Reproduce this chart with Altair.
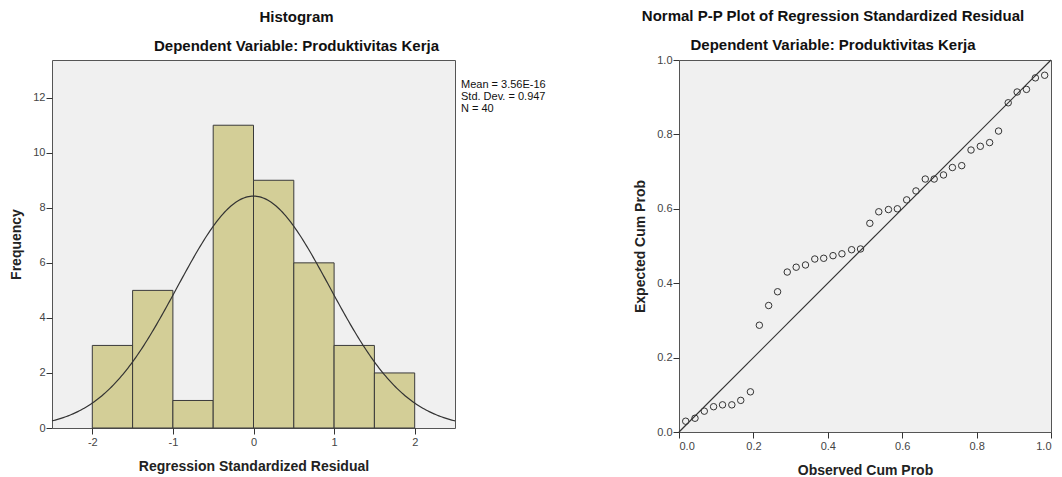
import altair as alt
import pandas as pd

# ---- Histogram data ----
bin_start = [-2.0, -1.5, -1.0, -0.5, 0.0, 0.5, 1.0, 1.5]
bin_end = [-1.5, -1.0, -0.5, 0.0, 0.5, 1.0, 1.5, 2.0]
freq = [3, 5, 1, 11, 9, 6, 3, 2]
res_mean = 3.56e-16
res_sd = 0.947
res_n = 40
stats_lines = ["Mean = 3.56E-16", "Std. Dev. = 0.947", "N = 40"]

# ---- P-P plot data ----
observed = [0.018, 0.043, 0.068, 0.093, 0.117, 0.142, 0.166, 0.192, 0.216, 0.241,
            0.265, 0.291, 0.315, 0.340, 0.365, 0.389, 0.414, 0.438, 0.464, 0.488,
            0.513, 0.537, 0.563, 0.587, 0.612, 0.637, 0.662, 0.686, 0.711, 0.735,
            0.760, 0.785, 0.810, 0.835, 0.859, 0.885, 0.909, 0.934, 0.958, 0.983]
expected = [0.029, 0.037, 0.056, 0.068, 0.073, 0.073, 0.085, 0.108, 0.287, 0.340,
            0.377, 0.430, 0.443, 0.449, 0.465, 0.467, 0.474, 0.479, 0.490, 0.492,
            0.561, 0.592, 0.598, 0.600, 0.624, 0.648, 0.680, 0.680, 0.691, 0.711,
            0.716, 0.758, 0.768, 0.778, 0.809, 0.885, 0.914, 0.921, 0.952, 0.959]
diag = [0.0, 1.0]

FONT = "Liberation Sans"
DARK = "#333333"

hist_df = pd.DataFrame({"start": bin_start, "end": bin_end, "freq": freq})
bw = bin_end[0] - bin_start[0]

xscale_h = alt.Scale(domain=[-2.5, 2.5], nice=False, zero=False)
yscale_h = alt.Scale(domain=[0, 13.37], nice=False)

bars = alt.Chart(hist_df).mark_rect(fill="#d3ce97", stroke="#3a3a3a", strokeWidth=1).encode(
    x=alt.X("start:Q", scale=xscale_h,
            axis=alt.Axis(values=[-2, -1, 0, 1, 2], labelExpr="toString(datum.value)",
                          title="Regression Standardized Residual")),
    x2="end:Q",
    y=alt.Y("freq:Q", scale=yscale_h,
            axis=alt.Axis(values=[0, 2, 4, 6, 8, 10, 12], title="Frequency")),
    y2=alt.datum(0),
)

curve = alt.Chart(alt.sequence(-2.5, 2.5001, 0.02, as_="x")).transform_calculate(
    y=f"{res_n * bw}*exp(-0.5*pow((datum.x-({res_mean}))/{res_sd},2))/({res_sd}*sqrt(2*PI))"
).mark_line(color=DARK, strokeWidth=1.2).encode(
    x=alt.X("x:Q", scale=xscale_h),
    y=alt.Y("y:Q", scale=yscale_h),
)

stats_df = pd.DataFrame({"t": ["\n".join(stats_lines)]})
stats = alt.Chart(stats_df).mark_text(
    align="left", baseline="top", font=FONT, fontSize=11, lineBreak="\n",
    lineHeight=12, color="#111"
).encode(text="t:N", x=alt.value(409), y=alt.value(19))

title_common = dict(
    anchor="middle", frame="group", font=FONT, fontSize=15, fontWeight="bold",
    color="#111", subtitleFont=FONT, subtitleFontSize=15, subtitleFontWeight="bold",
    subtitleColor="#111", subtitlePadding=14, offset=2,
)

hist = alt.layer(bars, curve, stats).properties(
    width=403, height=368,
    title=alt.TitleParams(text="Histogram", subtitle="Dependent Variable: Produktivitas Kerja",
                          dx=43, dy=-4, **title_common),
)

pp_df = pd.DataFrame({"obs": observed, "exp": expected})
diag_df = pd.DataFrame({"p": diag})
sc = alt.Scale(domain=[0, 1], nice=False)
ticks01 = [0, 0.2, 0.4, 0.6, 0.8, 1.0]

line = alt.Chart(diag_df).mark_line(color=DARK, strokeWidth=1.2).encode(
    x=alt.X("p:Q", scale=sc, axis=alt.Axis(values=ticks01, format=".1f", title="Observed Cum Prob")),
    y=alt.Y("p:Q", scale=sc, axis=alt.Axis(values=ticks01, format=".1f", title="Expected Cum Prob")),
)
pts = alt.Chart(pp_df).mark_point(shape="circle", filled=False, size=42, color=DARK,
                                  strokeWidth=1, opacity=1).encode(
    x=alt.X("obs:Q", scale=sc),
    y=alt.Y("exp:Q", scale=sc),
)

pp = alt.layer(line, pts).properties(
    width=372, height=372,
    title=alt.TitleParams(text="Normal P-P Plot of Regression Standardized Residual",
                          subtitle="Dependent Variable: Produktivitas Kerja",
                          dx=-32, dy=1, **title_common),
)

chart = alt.hconcat(hist, pp, spacing=224, bounds="flush").properties(
    padding={"left": 1, "top": 0, "right": 0, "bottom": 0}
).configure_view(
    fill="#f0f0f0", stroke="#555555", strokeWidth=1
).configure_axis(
    domain=False, grid=False, tickColor=DARK, tickSize=6, labelPadding=1,
    labelFont=FONT, labelFontSize=11, labelColor="#444444",
    titleFont=FONT, titleFontSize=14, titleFontWeight="bold", titleColor="#222222",
    titlePadding=9,
).configure_axisX(
    titlePadding=12, labelPadding=2,
)

chart.save("out.html", embed_options={"renderer": "svg", "actions": False})
